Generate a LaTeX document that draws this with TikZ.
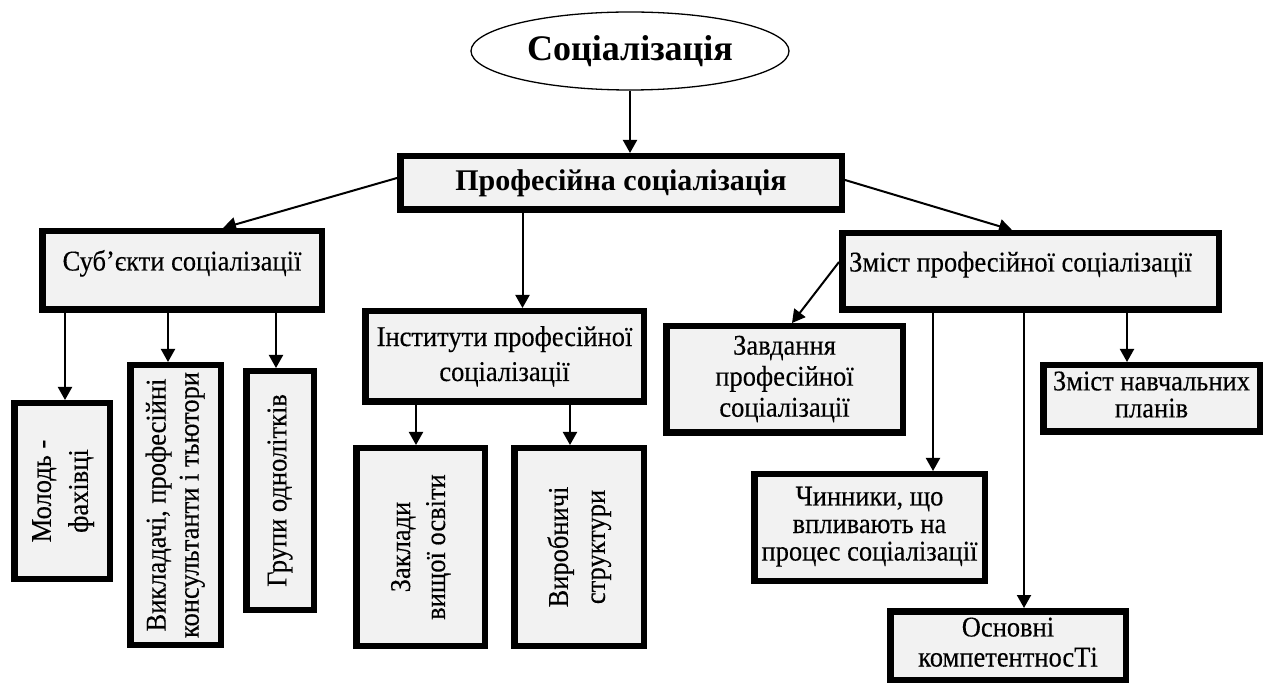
\documentclass[tikz,border=0pt]{standalone}
\usepackage{fontspec}
\setmainfont{Liberation Serif}[UprightFeatures={FakeBold=0.3}]
\usetikzlibrary{arrows.meta,shapes.geometric,calc}
\definecolor{boxfill}{HTML}{F2F2F2}
\newcommand{\myone}[1]{\scalebox{1}[1.08]{\fontsize{26.5}{30}\selectfont #1}}
\newcommand{\mylines}[2]{\scalebox{1}[1.08]{\fontsize{26.5}{#1}\selectfont\begin{tabular}{@{}c@{}}#2\end{tabular}}}
\begin{document}
\begin{tikzpicture}[x=1pt,y=-1pt,
  box/.style={draw=black, line width=6.5pt, fill=boxfill, inner sep=0pt},
  arr/.style={line width=2pt, -{Triangle[length=13pt,width=14pt]}},
  flat/.style={text height=0pt, text depth=0pt}]
\useasboundingbox (0,0) rectangle (1270,684);
\fill[white] (0,0) rectangle (1270,684);
% nodes
\node[ellipse, draw=black, line width=1.3pt, fill=white, inner sep=0pt,
      minimum width=318pt, minimum height=78pt] (ell) at (630,51)
      {\raisebox{-4pt}{\fontsize{36}{40}\selectfont\bfseries Соціалізація}};
\node[box, minimum width=441.5pt, minimum height=53.5pt] (prof) at (621,183)
      {\fontsize{30}{34}\selectfont\bfseries Професійна соціалізація};
\node[box, flat, minimum width=279.5pt, minimum height=78.5pt] (subj) at (182,270.5)
      {\myone{Суб’єкти соціалізації}};
\node[box, minimum width=95.5pt, minimum height=175.5pt] (mol) at (62,491)
      {\rotatebox{90}{\mylines{34.3}{Молодь -\\фахівці}}};
\node[box, minimum width=90.5pt, minimum height=279.5pt] (vykl) at (175.5,505)
      {\rotatebox{90}{\mylines{30.6}{Викладачі, професійні\\консультанти і тьютори}}};
\node[box, minimum width=67.5pt, minimum height=238.5pt] (grup) at (280,490.5)
      {\rotatebox{90}{\myone{Групи одноліткiв}}};
\node[box, minimum width=278.5pt, minimum height=90.5pt] (inst) at (504.5,356.5)
      {\raisebox{18pt}{\mylines{32.4}{Інститути професійної\\соціалізації}}};
\node[box, minimum width=128.5pt, minimum height=197.5pt] (zakl) at (420.5,547)
      {\rotatebox{90}{\mylines{32.4}{Заклади\\вищої освіти}}};
\node[box, minimum width=129.5pt, minimum height=197.5pt] (vyr) at (579,547)
      {\rotatebox{90}{\mylines{34.3}{Виробничі\\структури}}};
\node[box, flat, minimum width=376.5pt, minimum height=76.5pt] (zmist) at (1030.5,271.5)
      {\myone{Зміст професійної соціалізації}\hspace*{20pt}};
\node[box, minimum width=236.5pt, minimum height=106.5pt] (zavd) at (784.5,379.5)
      {\mylines{28.7}{Завдання\\професійної\\соціалізації}};
\node[box, minimum width=230.5pt, minimum height=106.5pt] (chyn) at (869.5,527.5)
      {\raisebox{14pt}{\mylines{25.5}{Чинники, що\\впливають на\\процес соціалізації}}};
\node[box, minimum width=235.5pt, minimum height=68.5pt] (osn) at (1008,645.5)
      {\mylines{27.8}{Основні\\компетентносТі}};
\node[box, minimum width=216.5pt, minimum height=66.5pt] (navch) at (1151.5,398.5)
      {\mylines{25}{Зміст навчальних\\планів}};
% helper coordinates on target tops
\coordinate (tl) at ($(subj.north)+(41,0)$);
\coordinate (tr) at ($(zmist.north)+(-18.5,0)$);
\coordinate (ti) at ($(inst.north)+(18,0)$);
\coordinate (tm) at ($(mol.north)+(3,0)$);
\coordinate (tv) at ($(vykl.north)+(-7.5,0)$);
\coordinate (tg) at ($(grup.north)+(-4,0)$);
\coordinate (tz) at ($(zakl.north)+(-4.5,0)$);
\coordinate (ty) at ($(vyr.north)+(-9,0)$);
\coordinate (td) at ($(zavd.north)+(7.5,0)$);
\coordinate (tc) at ($(chyn.north)+(63.5,0)$);
\coordinate (to) at ($(osn.north)+(16,0)$);
\coordinate (tn) at ($(navch.north)+(-24.5,0)$);
% connectors
\draw[arr] (ell.south) -- (ell.south |- prof.north);
\draw[arr] ($(prof.west)+(0,-5)$) -- (tl);
\draw[arr] ($(prof.east)+(0,-3)$) -- (tr);
\draw[arr] (prof.south -| ti) -- (ti);
\draw[arr] (subj.south -| tm) -- (tm);
\draw[arr] (subj.south -| tv) -- (tv);
\draw[arr] (subj.south -| tg) -- (tg);
\draw[arr] (inst.south -| tz) -- (tz);
\draw[arr] (inst.south -| ty) -- (ty);
\draw[arr] ($(zmist.west)+(0,-9.5)$) -- (td);
\draw[arr] (zmist.south -| tc) -- (tc);
\draw[arr] (zmist.south -| to) -- (to);
\draw[arr] (zmist.south -| tn) -- (tn);
\end{tikzpicture}
\end{document}
